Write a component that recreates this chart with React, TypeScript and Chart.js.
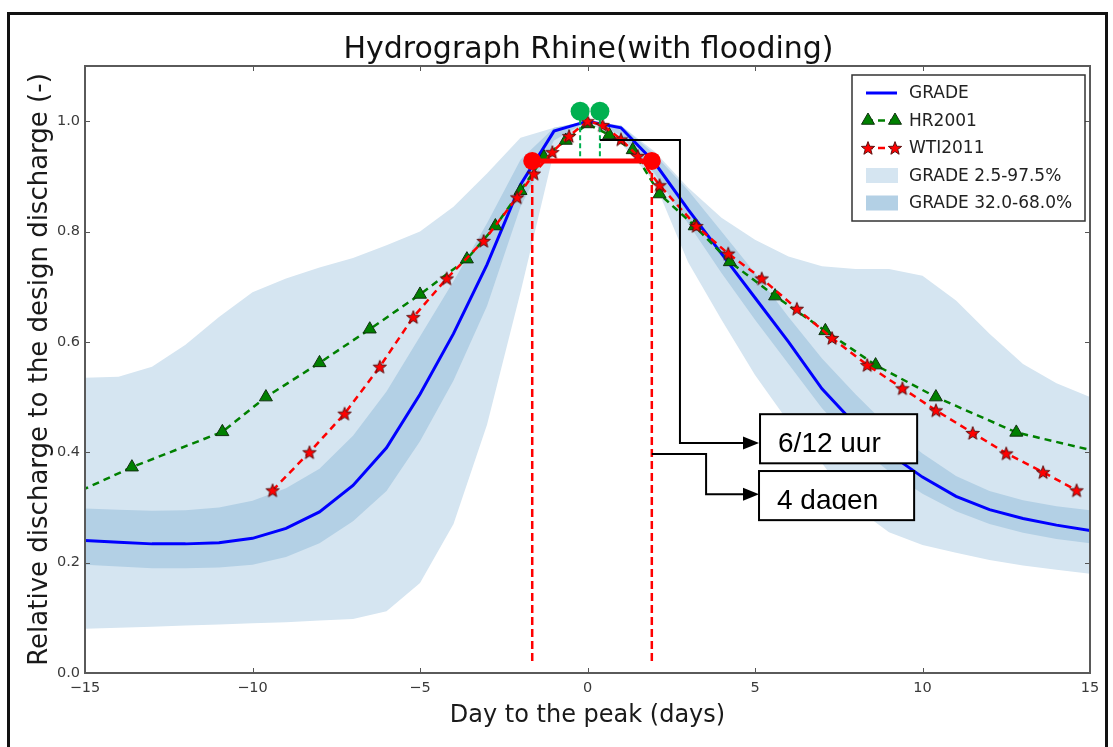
import React, { useEffect, useRef } from 'react';
import { Chart, registerables } from 'chart.js';

Chart.register(...registerables);

// ---------- data ----------
const gradeDays = [-15, -14, -13, -12, -11, -10, -9, -8, -7, -6, -5, -4, -3, -2, -1, 0, 1, 2, 3, 4, 5, 6, 7, 8, 9, 10, 11, 12, 13, 14, 15];
const gradeMedian = [0.240, 0.237, 0.234, 0.234, 0.236, 0.244, 0.262, 0.292, 0.340, 0.408, 0.505, 0.615, 0.740, 0.885, 0.982, 1.000, 0.988, 0.925, 0.840, 0.760, 0.680, 0.600, 0.515, 0.450, 0.398, 0.355, 0.320, 0.296, 0.280, 0.268, 0.258];
const grade975 = [0.535, 0.537, 0.555, 0.595, 0.645, 0.690, 0.715, 0.735, 0.752, 0.775, 0.800, 0.845, 0.905, 0.970, 0.988, 1.000, 0.992, 0.945, 0.880, 0.825, 0.785, 0.755, 0.737, 0.732, 0.732, 0.720, 0.675, 0.615, 0.560, 0.525, 0.500];
const grade025 = [0.080, 0.082, 0.084, 0.086, 0.088, 0.090, 0.092, 0.095, 0.098, 0.112, 0.163, 0.270, 0.450, 0.690, 0.945, 1.000, 0.960, 0.890, 0.745, 0.640, 0.540, 0.455, 0.380, 0.300, 0.255, 0.232, 0.218, 0.205, 0.195, 0.187, 0.180];
const grade68 = [0.298, 0.296, 0.294, 0.295, 0.300, 0.312, 0.335, 0.370, 0.430, 0.510, 0.610, 0.710, 0.815, 0.930, 0.988, 1.000, 0.992, 0.940, 0.875, 0.800, 0.725, 0.645, 0.570, 0.505, 0.445, 0.398, 0.357, 0.330, 0.313, 0.302, 0.295];
const grade32 = [0.196, 0.193, 0.190, 0.190, 0.191, 0.196, 0.210, 0.235, 0.275, 0.330, 0.420, 0.530, 0.665, 0.845, 0.965, 1.000, 0.975, 0.905, 0.815, 0.725, 0.640, 0.560, 0.480, 0.415, 0.365, 0.325, 0.293, 0.270, 0.254, 0.243, 0.235];

const hrDays = [-16.4, -13.6, -10.9, -9.6, -8.0, -6.5, -5.0, -3.6, -2.75, -2.0, -1.3, -0.65, 0, 0.65, 1.35, 2.15, 3.2, 4.25, 5.6, 7.1, 8.6, 10.4, 12.8, 16.0];
const hrValues = [0.295, 0.373, 0.437, 0.500, 0.562, 0.623, 0.686, 0.750, 0.810, 0.874, 0.935, 0.965, 0.995, 0.975, 0.948, 0.868, 0.810, 0.745, 0.683, 0.620, 0.558, 0.500, 0.436, 0.390];

const wtiDays = [-9.4, -8.3, -7.25, -6.2, -5.2, -4.2, -3.1, -2.1, -1.6, -1.05, -0.55, 0, 0.45, 1.0, 1.5, 2.15, 3.25, 4.2, 5.2, 6.25, 7.3, 8.35, 9.4, 10.4, 11.5, 12.5, 13.6, 14.6];
const wtiValues = [0.331, 0.400, 0.470, 0.555, 0.645, 0.715, 0.783, 0.862, 0.905, 0.944, 0.973, 1.000, 0.993, 0.967, 0.937, 0.884, 0.810, 0.760, 0.715, 0.660, 0.607, 0.558, 0.516, 0.476, 0.435, 0.398, 0.364, 0.331];

const xTicks = [-15, -10, -5, 0, 5, 10, 15];
const yTicks = [0, 0.2, 0.4, 0.6, 0.8, 1.0];

const titleText = 'Hydrograph Rhine(with flooding)';
const xTitle = 'Day to the peak (days)';
const yTitle = 'Relative discharge to the design discharge (-)';
const legendLabels = ['GRADE', 'HR2001', 'WTI2011', 'GRADE 2.5-97.5%', 'GRADE 32.0-68.0%'];

// peak-window annotation, in days / relative discharge
const windowDays = [-1.65, 1.92];
const windowLevel = 0.928;
const guideFloor = 0.015;
const peakMarkDays = [-0.22, 0.37];
const peakMarkLevel = 1.018;

// callouts: path = [startDay, startLevel, cornerDay, arrowLevel, tipDay]; box = [day0, day1, topLevel, bottomLevel]
const calloutTexts = ['6/12 uur', '4 dagen'];
const calloutPaths = [
  [0.37, 0.966, 2.76, 0.417, 5.12],
  [1.92, 0.397, 3.54, 0.324, 5.12],
];
const calloutBoxes = [
  [5.15, 9.84, 0.469, 0.380],
  [5.12, 9.75, 0.366, 0.277],
];

// ---------- styles ----------
const LIGHT_BAND = '#d5e5f1';
const DARK_BAND = '#b3d0e5';
const BLUE = '#0000ff';
const GREEN = '#008000';
const RED = '#ff0000';
const MARK_GREEN = '#00b050';
const FONT = '"DejaVu Sans", sans-serif';

const pts = (xs: number[], ys: number[]) => xs.map((x, i) => ({ x, y: ys[i] }));

function makeStar(outer: number): HTMLCanvasElement {
  const c = document.createElement('canvas');
  const size = Math.ceil(outer * 2 + 4);
  c.width = size;
  c.height = size;
  const g = c.getContext('2d')!;
  const cx = size / 2, cy = size / 2 + 0.6;
  const inner = outer * 0.42;
  g.beginPath();
  for (let i = 0; i < 10; i++) {
    const r = i % 2 === 0 ? outer : inner;
    const a = -Math.PI / 2 + (i * Math.PI) / 5;
    const x = cx + r * Math.cos(a), y = cy + r * Math.sin(a);
    if (i === 0) g.moveTo(x, y); else g.lineTo(x, y);
  }
  g.closePath();
  g.fillStyle = RED;
  g.fill();
  g.strokeStyle = '#5a1010';
  g.lineWidth = 1;
  g.stroke();
  return c;
}

function triangle(ctx: CanvasRenderingContext2D, x: number, y: number, r: number) {
  ctx.beginPath();
  for (let i = 0; i < 3; i++) {
    const a = -Math.PI / 2 + (i * 2 * Math.PI) / 3;
    const px = x + r * Math.cos(a), py = y + r * Math.sin(a);
    if (i === 0) ctx.moveTo(px, py); else ctx.lineTo(px, py);
  }
  ctx.closePath();
  ctx.fillStyle = GREEN;
  ctx.fill();
  ctx.strokeStyle = '#103010';
  ctx.lineWidth = 1;
  ctx.stroke();
}

function drawAnnotations(chart: any) {
  const ctx: CanvasRenderingContext2D = chart.ctx;
  const X = (d: number) => chart.scales.x.getPixelForValue(d);
  const Y = (v: number) => chart.scales.y.getPixelForValue(v);
  ctx.save();

  // red dashed guides under the window ends
  ctx.strokeStyle = RED;
  ctx.lineWidth = 2.5;
  ctx.setLineDash([8, 4]);
  windowDays.forEach((d) => {
    ctx.beginPath();
    ctx.moveTo(X(d), Y(windowLevel));
    ctx.lineTo(X(d), Y(guideFloor));
    ctx.stroke();
  });

  // green dashed guides from the peak marks
  ctx.strokeStyle = MARK_GREEN;
  ctx.lineWidth = 2;
  ctx.setLineDash([5, 3]);
  peakMarkDays.forEach((d) => {
    ctx.beginPath();
    ctx.moveTo(X(d), Y(peakMarkLevel));
    ctx.lineTo(X(d), Y(windowLevel));
    ctx.stroke();
  });
  ctx.setLineDash([]);

  // red window bar with end dots
  ctx.strokeStyle = RED;
  ctx.lineWidth = 5;
  ctx.beginPath();
  ctx.moveTo(X(windowDays[0]), Y(windowLevel));
  ctx.lineTo(X(windowDays[1]), Y(windowLevel));
  ctx.stroke();
  ctx.fillStyle = RED;
  windowDays.forEach((d) => {
    ctx.beginPath();
    ctx.arc(X(d), Y(windowLevel), 9, 0, Math.PI * 2);
    ctx.fill();
  });

  // green peak marks
  ctx.fillStyle = MARK_GREEN;
  peakMarkDays.forEach((d) => {
    ctx.beginPath();
    ctx.arc(X(d), Y(peakMarkLevel), 9.5, 0, Math.PI * 2);
    ctx.fill();
  });

  // callout connectors with arrow heads
  ctx.strokeStyle = '#000';
  ctx.fillStyle = '#000';
  ctx.lineWidth = 2;
  calloutPaths.forEach(([sx, sy, cx, ay, tip]) => {
    const tx = X(tip), yy = Y(ay);
    ctx.beginPath();
    ctx.moveTo(X(sx), Y(sy));
    ctx.lineTo(X(cx), Y(sy));
    ctx.lineTo(X(cx), yy);
    ctx.lineTo(tx - 12, yy);
    ctx.stroke();
    ctx.beginPath();
    ctx.moveTo(tx, yy);
    ctx.lineTo(tx - 16, yy - 6.5);
    ctx.lineTo(tx - 16, yy + 6.5);
    ctx.closePath();
    ctx.fill();
  });

  // callout boxes
  calloutBoxes.forEach(([d0, d1, top, bottom], i) => {
    const x0 = X(d0), x1 = X(d1), y0 = Y(top), y1 = Y(bottom);
    ctx.fillStyle = '#fff';
    ctx.fillRect(x0, y0, x1 - x0, y1 - y0);
    ctx.strokeStyle = '#000';
    ctx.lineWidth = 2;
    ctx.strokeRect(x0, y0, x1 - x0, y1 - y0);
    ctx.save();
    ctx.beginPath();
    ctx.rect(x0 + 1, y0 + 1, x1 - x0 - 2, 38);
    ctx.clip();
    ctx.fillStyle = '#000';
    ctx.font = '28px "Liberation Sans", Arial, sans-serif';
    ctx.textAlign = 'left';
    ctx.textBaseline = 'alphabetic';
    ctx.fillText(calloutTexts[i], x0 + 18, y0 + 38);
    ctx.restore();
  });

  ctx.restore();
}

function drawFrame(chart: any) {
  const ctx: CanvasRenderingContext2D = chart.ctx;
  const a = chart.chartArea;
  const X = (d: number) => chart.scales.x.getPixelForValue(d);
  const Y = (v: number) => chart.scales.y.getPixelForValue(v);
  ctx.save();
  ctx.strokeStyle = '#555';
  ctx.lineWidth = 1;
  xTicks.forEach((t) => {
    const x = Math.round(X(t)) + 0.5;
    ctx.beginPath();
    ctx.moveTo(x, a.bottom); ctx.lineTo(x, a.bottom - 5);
    ctx.moveTo(x, a.top); ctx.lineTo(x, a.top + 5);
    ctx.stroke();
  });
  yTicks.forEach((t) => {
    const y = Math.round(Y(t)) + 0.5;
    ctx.beginPath();
    ctx.moveTo(a.left, y); ctx.lineTo(a.left + 5, y);
    ctx.moveTo(a.right, y); ctx.lineTo(a.right - 5, y);
    ctx.stroke();
  });
  ctx.lineWidth = 2;
  ctx.strokeStyle = '#5a5a5a';
  ctx.strokeRect(a.left, a.top, a.right - a.left, a.bottom - a.top);
  ctx.restore();
}

function drawLegend(chart: any, star: HTMLCanvasElement) {
  const ctx: CanvasRenderingContext2D = chart.ctx;
  const a = chart.chartArea;
  const bw = 233, bh = 146;
  const bx = a.right - bw - 5, by = a.top + 9;
  ctx.save();
  ctx.fillStyle = '#fff';
  ctx.fillRect(bx, by, bw, bh);
  ctx.strokeStyle = '#333';
  ctx.lineWidth = 1.5;
  ctx.strokeRect(bx, by, bw, bh);
  const h0 = bx + 14, h1 = bx + 45;
  legendLabels.forEach((label, i) => {
    const y = by + 18 + i * 27.5;
    if (i === 0) {
      ctx.strokeStyle = BLUE; ctx.lineWidth = 3;
      ctx.beginPath(); ctx.moveTo(h0, y); ctx.lineTo(h1, y); ctx.stroke();
    } else if (i === 1) {
      ctx.strokeStyle = GREEN; ctx.lineWidth = 2.5; ctx.setLineDash([7, 5]);
      ctx.beginPath(); ctx.moveTo(h0, y); ctx.lineTo(h1, y); ctx.stroke();
      ctx.setLineDash([]);
      triangle(ctx, h0 + 2, y, 7.5);
      triangle(ctx, h1 - 2, y, 7.5);
    } else if (i === 2) {
      ctx.strokeStyle = RED; ctx.lineWidth = 2.5; ctx.setLineDash([7, 5]);
      ctx.beginPath(); ctx.moveTo(h0, y); ctx.lineTo(h1, y); ctx.stroke();
      ctx.setLineDash([]);
      ctx.drawImage(star, h0 + 2 - star.width / 2, y - star.height / 2);
      ctx.drawImage(star, h1 - 2 - star.width / 2, y - star.height / 2);
    } else {
      ctx.fillStyle = i === 3 ? LIGHT_BAND : DARK_BAND;
      ctx.fillRect(h0, y - 7.5, 32, 15);
    }
    ctx.fillStyle = '#222';
    ctx.font = `17px ${FONT}`;
    ctx.textAlign = 'left';
    ctx.textBaseline = 'middle';
    ctx.fillText(label, bx + 57, y + 1);
  });
  ctx.restore();
}

export default function App() {
  const ref = useRef<HTMLCanvasElement>(null);

  useEffect(() => {
    const canvas = ref.current;
    if (!canvas) return;
    const star = makeStar(7);

    const decor = {
      id: 'decor',
      beforeDraw(chart: any) {
        const ctx = chart.ctx;
        ctx.save();
        ctx.fillStyle = '#fff';
        ctx.fillRect(0, 0, chart.width, chart.height);
        ctx.restore();
      },
      afterDatasetsDraw(chart: any) {
        drawAnnotations(chart);
      },
      afterDraw(chart: any) {
        drawFrame(chart);
        drawLegend(chart, star);
        const ctx: CanvasRenderingContext2D = chart.ctx;
        const a = chart.chartArea;
        ctx.save();
        ctx.fillStyle = '#111';
        ctx.font = `30px ${FONT}`;
        ctx.textAlign = 'center';
        ctx.textBaseline = 'alphabetic';
        ctx.fillText(titleText, (a.left + a.right) / 2 + 1, 58);
        // figure border
        ctx.strokeStyle = '#111';
        ctx.lineWidth = 3;
        ctx.strokeRect(8.5, 13.5, 1098, 760);
        ctx.restore();
      },
    };

    const chart = new Chart(canvas, {
      type: 'line',
      data: {
        datasets: [
          {
            label: 'WTI2011',
            data: pts(wtiDays, wtiValues),
            borderColor: RED,
            borderWidth: 2.5,
            borderDash: [7, 5],
            pointStyle: star as any,
            pointRadius: 7,
            fill: false,
            order: 0,
          },
          {
            label: 'HR2001',
            data: pts(hrDays, hrValues),
            borderColor: GREEN,
            borderWidth: 2.5,
            borderDash: [7, 5],
            pointStyle: 'triangle',
            pointRadius: 7.5,
            pointBackgroundColor: GREEN,
            pointBorderColor: '#103010',
            pointBorderWidth: 1,
            fill: false,
            order: 1,
          },
          {
            label: 'GRADE',
            data: pts(gradeDays, gradeMedian),
            borderColor: BLUE,
            borderWidth: 3,
            pointRadius: 0,
            fill: false,
            order: 2,
          },
          {
            label: 'GRADE 32.0-68.0%',
            data: pts(gradeDays, grade68),
            borderColor: 'transparent',
            borderWidth: 0,
            pointRadius: 0,
            backgroundColor: DARK_BAND,
            fill: '+1',
            order: 3,
          },
          {
            label: 'GRADE 32.0%',
            data: pts(gradeDays, grade32),
            borderColor: 'transparent',
            borderWidth: 0,
            pointRadius: 0,
            fill: false,
            order: 4,
          },
          {
            label: 'GRADE 2.5-97.5%',
            data: pts(gradeDays, grade975),
            borderColor: 'transparent',
            borderWidth: 0,
            pointRadius: 0,
            backgroundColor: LIGHT_BAND,
            fill: '+1',
            order: 5,
          },
          {
            label: 'GRADE 2.5%',
            data: pts(gradeDays, grade025),
            borderColor: 'transparent',
            borderWidth: 0,
            pointRadius: 0,
            fill: false,
            order: 6,
          },
        ],
      },
      options: {
        responsive: false,
        animation: false,
        events: [],
        layout: { padding: { left: 0, top: 66, right: 23, bottom: 0 } },
        plugins: {
          legend: { display: false },
          tooltip: { enabled: false },
          title: { display: false },
        },
        elements: { line: { tension: 0 } },
        scales: {
          x: {
            type: 'linear',
            min: -15,
            max: 15,
            grid: { display: false, drawTicks: false },
            border: { display: false },
            afterFit: (s: any) => { s.height = 74; },
            afterBuildTicks: (s: any) => { s.ticks = xTicks.map((v) => ({ value: v })); },
            ticks: {
              padding: 7,
              color: '#3a3a3a',
              font: { family: FONT, size: 14.5 },
              maxRotation: 0,
              callback: (v: any) => (Number(v) < 0 ? '\u2212' + Math.abs(Number(v)) : String(v)),
            },
            title: {
              display: true,
              text: xTitle,
              color: '#1a1a1a',
              font: { family: FONT, size: 24 },
              padding: { top: 0, bottom: 17 },
            },
          },
          y: {
            type: 'linear',
            min: 0,
            max: 1.1,
            grid: { display: false, drawTicks: false },
            border: { display: false },
            afterFit: (s: any) => { s.width = 85; },
            afterBuildTicks: (s: any) => { s.ticks = yTicks.map((v) => ({ value: v })); },
            ticks: {
              padding: 5,
              color: '#3a3a3a',
              font: { family: FONT, size: 14.5 },
              callback: (v: any) => Number(v).toFixed(1),
            },
            title: {
              display: true,
              text: yTitle,
              color: '#1a1a1a',
              font: { family: FONT, size: 26 },
              padding: { top: 25, bottom: 0 },
            },
          },
        },
      },
      plugins: [decor],
    } as any);

    return () => chart.destroy();
  }, []);

  return (
    <div style={{ position: 'fixed', left: 0, top: 0, width: 1113, height: 747, background: '#fff', overflow: 'hidden' }}>
      <canvas ref={ref} width={1113} height={747} style={{ display: 'block' }} />
    </div>
  );
}
